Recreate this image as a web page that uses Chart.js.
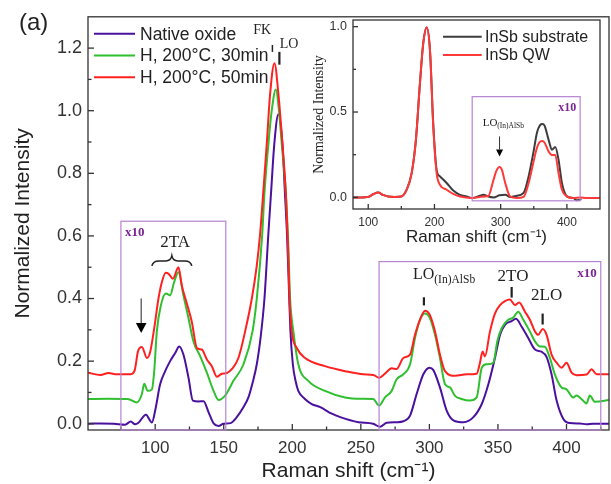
<!DOCTYPE html>
<html>
<head>
<meta charset="utf-8">
<script src="https://cdn.jsdelivr.net/npm/chart.js@4"></script>
<style>
  html, body { margin: 0; padding: 0; background: #fff; }
  #wrap { position: relative; width: 611px; height: 484px; }
  #mainChart { position: absolute; left: 0; top: 0; }
  #insetChart { position: absolute; left: 300px; top: 0; }
</style>
</head>
<body>
<div id="wrap">
  <canvas id="mainChart" width="611" height="484"></canvas>
  <canvas id="insetChart" width="305" height="250"></canvas>
</div>
<script>
// ---- main panel data ----
const nativeShift = [51, 60, 70, 78, 82.2, 85.4, 87.8, 93.2, 97.6, 100, 103.6, 107.3, 110.9, 114.6, 117.5, 120.6, 124.3, 127.5, 131.6, 135.3, 138.9, 142.6, 146.2, 149.8, 155, 159.5, 164, 168, 171, 174.1, 177, 179.7, 182.6, 184.5, 186.9, 189.9, 192.8, 194.6, 196.2, 197.4, 198.6, 200.4, 202.5, 204.4, 209, 214.2, 220.4, 228.8, 235, 248.2, 259, 264, 268.8, 276.1, 281, 285.9, 290.7, 295.6, 300, 302.8, 307.7, 312.6, 317.5, 324.8, 332.1, 338.2, 343, 347.8, 351.5, 355.1, 360, 363.1, 367.3, 372.1, 377, 381.8, 385.5, 389.1, 392.8, 397.6, 402.5, 409.8, 414.6, 419.4, 431];
const nativeInt = [0, 0.001, 0, -0.003, 0.007, -0.002, 0.003, 0.029, 0.004, 0.042, 0.126, 0.168, 0.2, 0.226, 0.247, 0.221, 0.147, 0.074, 0.071, 0.072, 0.037, 0.001, -0.007, 0, 0.002, 0.021, 0.05, 0.084, 0.13, 0.19, 0.28, 0.4, 0.61, 0.737, 0.895, 0.989, 0.895, 0.74, 0.6, 0.45, 0.3, 0.19, 0.135, 0.105, 0.08, 0.063, 0.053, 0.032, 0.021, 0.005, 0, -0.01, 0.003, 0.005, 0.008, 0.026, 0.095, 0.158, 0.179, 0.172, 0.116, 0.042, 0.011, 0.005, 0.021, 0.063, 0.126, 0.21, 0.284, 0.316, 0.328, 0.335, 0.31, 0.274, 0.237, 0.23, 0.213, 0.158, 0.074, 0.016, 0.002, 0.001, -0.002, 0, 0];

const h30Shift = [51, 65, 80, 86.6, 90.3, 92, 94.5, 97.6, 99.3, 101.2, 104.2, 107.8, 110.9, 113.8, 117, 120.6, 124.3, 127.9, 132.8, 137.7, 142.6, 146.2, 151, 157.1, 164.4, 171, 174.1, 178, 179.7, 182.6, 185, 188, 190.3, 192.3, 195.3, 197, 198.4, 200.8, 204.4, 211.7, 223.9, 238.5, 250.7, 259, 263.3, 267.6, 272.5, 276.1, 281, 285.9, 289.5, 293.1, 296.8, 300.4, 304.1, 307.7, 311.4, 315, 318.7, 323.5, 329.6, 334.5, 338.2, 341.8, 346.6, 349.5, 352.7, 357.5, 361.2, 364.8, 368.5, 373.3, 377, 380.6, 384.2, 387.9, 391.5, 396.4, 400, 404.9, 407.3, 410.9, 414.6, 417, 420.7, 431];
const h30Int = [0.079, 0.08, 0.079, 0.068, 0.095, 0.128, 0.105, 0.11, 0.168, 0.295, 0.379, 0.416, 0.41, 0.452, 0.484, 0.41, 0.337, 0.263, 0.216, 0.163, 0.105, 0.076, 0.09, 0.137, 0.19, 0.295, 0.4, 0.6, 0.737, 0.895, 1.0, 1.068, 1.0, 0.895, 0.737, 0.58, 0.4, 0.295, 0.19, 0.137, 0.105, 0.084, 0.08, 0.079, 0.058, 0.084, 0.105, 0.142, 0.158, 0.19, 0.274, 0.332, 0.352, 0.337, 0.284, 0.21, 0.126, 0.116, 0.089, 0.079, 0.074, 0.084, 0.179, 0.19, 0.195, 0.263, 0.305, 0.332, 0.339, 0.358, 0.332, 0.295, 0.263, 0.247, 0.246, 0.21, 0.158, 0.116, 0.11, 0.084, 0.09, 0.079, 0.065, 0.09, 0.07, 0.076];

const h50Shift = [51, 60, 66, 72, 81.8, 85, 87.5, 90.3, 94, 96.4, 99.3, 102.4, 104.9, 107.8, 110, 112.9, 117, 119.4, 123.1, 126.7, 130.4, 134, 137.7, 141.3, 145, 148.6, 152.3, 156, 160.7, 165.6, 170.5, 174.1, 176.6, 179, 181.4, 183.8, 187, 189.9, 192.8, 195.3, 196.8, 198, 199.6, 203.3, 209.3, 223.9, 238.5, 251.8, 259, 263.3, 267.6, 272.5, 276.1, 281, 285.9, 289.5, 293.1, 296.8, 300.4, 304.1, 307.7, 311.4, 318.7, 327.2, 334.5, 336.9, 338.8, 340.5, 344.2, 347.8, 351.5, 355.1, 358.7, 362.4, 365.5, 369.7, 373.3, 377, 379.4, 382.6, 385.5, 389.1, 392.8, 396.4, 400, 403.7, 407.3, 414.6, 418.3, 421.9, 431];
const h50Int = [0.163, 0.156, 0.162, 0.158, 0.158, 0.17, 0.232, 0.245, 0.21, 0.23, 0.305, 0.4, 0.453, 0.482, 0.478, 0.463, 0.5, 0.442, 0.384, 0.326, 0.242, 0.237, 0.205, 0.184, 0.15, 0.16, 0.162, 0.175, 0.21, 0.295, 0.4, 0.505, 0.61, 0.75, 0.895, 1.052, 1.152, 1.052, 0.895, 0.737, 0.58, 0.4, 0.295, 0.242, 0.21, 0.184, 0.168, 0.158, 0.156, 0.147, 0.16, 0.177, 0.175, 0.21, 0.221, 0.284, 0.332, 0.361, 0.347, 0.295, 0.221, 0.168, 0.153, 0.158, 0.16, 0.195, 0.231, 0.215, 0.295, 0.352, 0.379, 0.392, 0.397, 0.379, 0.387, 0.358, 0.332, 0.295, 0.284, 0.303, 0.284, 0.221, 0.195, 0.179, 0.195, 0.163, 0.155, 0.157, 0.174, 0.158, 0.158];

const mainXTicks = [75, 100, 125, 150, 175, 200, 225, 250, 275, 300, 325, 350, 375, 400, 425];
const mainXLabels = [100, 150, 200, 250, 300, 350, 400];
const mainYTicks = [0, 0.1, 0.2, 0.3, 0.4, 0.5, 0.6, 0.7, 0.8, 0.9, 1.0, 1.1, 1.2];
const mainYLabels = [0, 0.2, 0.4, 0.6, 0.8, 1.0, 1.2];

// ---- inset data ----
const subShift = [77, 90, 100, 108, 115, 122, 130, 140, 150, 158, 165.6, 172, 178.1, 183.1, 188.2, 193.2, 198.2, 203.3, 208.3, 218.4, 228.4, 238.5, 248.6, 256.2, 262, 268.7, 273.8, 281.3, 289.2, 298.3, 306.9, 314.4, 324.5, 334.6, 342.2, 349.7, 354.7, 359.8, 363, 366.3, 372.4, 377.4, 382.4, 387.4, 392.5, 400, 410, 415, 422];
const subInt = [0, 0, 0.003, 0.02, 0.028, 0.015, 0.005, 0.003, 0.005, 0.045, 0.142, 0.337, 0.669, 0.903, 0.995, 0.864, 0.43, 0.16, 0.123, 0.084, 0.04, 0.015, 0.005, -0.004, 0, 0.01, 0.016, 0.005, 0, 0.012, 0.015, 0.003, 0.01, 0.026, 0.123, 0.269, 0.377, 0.425, 0.43, 0.42, 0.337, 0.279, 0.295, 0.22, 0.084, 0.006, -0.004, -0.017, -0.01];
const qwShift = [77, 90, 100, 108, 115, 122, 130, 140, 150, 158, 165.6, 172, 178.1, 183.1, 188.2, 193.2, 198.2, 203.3, 208.3, 218.4, 228.4, 238.5, 248.6, 256.2, 268.7, 281.3, 289.2, 293.5, 298.3, 302, 306.9, 314.4, 324.5, 334.6, 342.2, 349.7, 354.7, 359.8, 363, 366.3, 372.4, 377.4, 382.4, 387.4, 392.5, 400, 410, 420, 430, 450];
const qwInt = [0, 0, 0.003, 0.02, 0.028, 0.015, 0.005, 0.003, 0.005, 0.045, 0.142, 0.337, 0.669, 0.903, 0.995, 0.864, 0.415, 0.142, 0.074, 0.045, 0.02, 0.005, 0, -0.004, 0.003, 0.008, 0.103, 0.155, 0.178, 0.16, 0.084, 0.005, -0.004, 0.003, 0.084, 0.21, 0.289, 0.327, 0.33, 0.32, 0.269, 0.249, 0.249, 0.142, 0.045, 0.006, -0.004, 0, -0.004, -0.004];

const insetXTicks = [100, 150, 200, 250, 300, 350, 400];
const insetXLabels = [100, 200, 300, 400];
const insetYTicks = [0, 0.25, 0.5, 0.75, 1.0];
const insetYLabels = [0, 0.5, 1.0];

const SANS = '"Liberation Sans", Arial, sans-serif';
const SERIF = '"Liberation Serif", "Times New Roman", serif';
const INK = "#222";
const AXIS = "#333";
const BOX = "#b683d2";
const BOX_TEXT = "#7a2396";

Chart.defaults.font.family = SANS;
Chart.defaults.color = AXIS;

function toPoints(xs, ys) {
  return xs.map((x, i) => ({ x: x, y: ys[i] }));
}

function fixedTicks(values) {
  return (scale) => {
    scale.ticks = values.map((v) => ({ value: v }));
  };
}

function line(ctx, x1, y1, x2, y2) {
  ctx.beginPath();
  ctx.moveTo(x1, y1);
  ctx.lineTo(x2, y2);
  ctx.stroke();
}

function arrowDown(ctx, x, y1, y2, head, half) {
  line(ctx, x, y1, x, y2 - head);
  ctx.beginPath();
  ctx.moveTo(x - half, y2 - head);
  ctx.lineTo(x + half, y2 - head);
  ctx.lineTo(x, y2);
  ctx.closePath();
  ctx.fill();
}

// LO with the "(In)AlSb" subscript
function loLabel(ctx, x, y, size, subSize, drop) {
  ctx.textAlign = "left";
  ctx.textBaseline = "middle";
  ctx.font = size + "px " + SERIF;
  ctx.fillText("LO", x, y);
  const w = ctx.measureText("LO").width;
  ctx.font = subSize + "px " + SERIF;
  ctx.fillText("(In)AlSb", x + w, y + drop);
}

// frame round the plot and inward tick marks
const frameTicks = {
  id: "frameTicks",
  afterDatasetsDraw(chart, args, opts) {
    const { ctx, chartArea: a, scales } = chart;
    ctx.save();
    ctx.strokeStyle = AXIS;
    ctx.lineWidth = opts.width;
    ctx.strokeRect(a.left, a.top, a.right - a.left, a.bottom - a.top);
    scales.x.ticks.forEach((t) => {
      const px = scales.x.getPixelForValue(t.value);
      const len = t.label ? opts.major : opts.minor;
      line(ctx, px, a.bottom, px, a.bottom - len);
    });
    scales.y.ticks.forEach((t) => {
      const py = scales.y.getPixelForValue(t.value);
      const len = t.label ? opts.major : opts.minor;
      line(ctx, a.left, py, a.left + len, py);
    });
    ctx.restore();
  },
};

const mainNotes = {
  id: "mainNotes",
  afterDraw(chart) {
    const { ctx, chartArea: a } = chart;
    const X = (v) => chart.scales.x.getPixelForValue(v);
    const Y = (v) => chart.scales.y.getPixelForValue(v);
    ctx.save();

    // x10 boxes
    ctx.strokeStyle = BOX;
    ctx.lineWidth = 1.2;
    ctx.strokeRect(X(75), Y(0.647), X(151.5) - X(75), Y(-0.02) - Y(0.647));
    ctx.strokeRect(X(263.3), Y(0.518), X(425) - X(263.3), Y(-0.02) - Y(0.518));
    ctx.fillStyle = BOX_TEXT;
    ctx.font = "bold 13px " + SERIF;
    ctx.textBaseline = "top";
    ctx.textAlign = "left";
    ctx.fillText("x10", X(75) + 4, Y(0.647) + 5);
    ctx.textAlign = "right";
    ctx.fillText("x10", X(425) - 4, Y(0.518) + 6);

    // legend
    ctx.font = "17.5px " + SANS;
    ctx.textAlign = "left";
    ctx.textBaseline = "middle";
    ctx.lineWidth = 2;
    chart.data.datasets.forEach((ds, i) => {
      const y = a.top + 17 + i * 21.7;
      ctx.strokeStyle = ds.borderColor;
      line(ctx, a.left + 6, y, a.left + 47, y);
      ctx.fillStyle = INK;
      ctx.fillText(ds.label, a.left + 52, y + 1);
    });

    // panel letter
    ctx.font = "24px " + SANS;
    ctx.fillText("(a)", 19, 23);

    // peak labels
    ctx.fillStyle = INK;
    ctx.strokeStyle = INK;
    ctx.textAlign = "center";
    ctx.font = "14px " + SERIF;
    ctx.fillText("FK", X(178), Y(1.257));
    ctx.fillText("LO", X(197.7), Y(1.213));
    ctx.lineWidth = 1.5;
    line(ctx, X(185.5), Y(1.21), X(185.5), Y(1.188));
    ctx.lineWidth = 2.2;
    line(ctx, X(190.6), Y(1.188), X(190.6), Y(1.147));

    ctx.font = "17px " + SERIF;
    ctx.fillText("2TA", X(114.5), Y(0.578));
    ctx.fillText("2TO", X(361), Y(0.471));
    ctx.fillText("2LO", X(385.5), Y(0.411));
    loLabel(ctx, X(288), Y(0.475), 16, 11.5, 5);

    ctx.lineWidth = 2.2;
    line(ctx, X(296), Y(0.404), X(296), Y(0.378));
    line(ctx, X(360), Y(0.437), X(360), Y(0.403));
    line(ctx, X(382.6), Y(0.352), X(382.6), Y(0.317));

    // brace over 2TA
    const bx1 = X(97.6), bx2 = X(126.7), bm = (bx1 + bx2) / 2, by = Y(0.52);
    ctx.lineWidth = 1.6;
    ctx.beginPath();
    ctx.moveTo(bx1, by + 5);
    ctx.quadraticCurveTo(bx1 + 1, by, bx1 + 7, by);
    ctx.lineTo(bm - 6, by);
    ctx.quadraticCurveTo(bm - 1, by, bm, by - 5);
    ctx.quadraticCurveTo(bm + 1, by, bm + 6, by);
    ctx.lineTo(bx2 - 7, by);
    ctx.quadraticCurveTo(bx2 - 1, by, bx2, by + 5);
    ctx.stroke();

    // arrow to the 90 cm-1 shoulder
    ctx.fillStyle = "#000";
    ctx.strokeStyle = "#444";
    ctx.lineWidth = 1.2;
    arrowDown(ctx, X(89.8), Y(0.40), Y(0.29), 10, 5.3);

    ctx.restore();
  },
};

const insetNotes = {
  id: "insetNotes",
  afterDraw(chart) {
    const { ctx, chartArea: a } = chart;
    const X = (v) => chart.scales.x.getPixelForValue(v);
    const Y = (v) => chart.scales.y.getPixelForValue(v);
    ctx.save();

    ctx.strokeStyle = BOX;
    ctx.lineWidth = 1.2;
    ctx.strokeRect(X(257), Y(0.59), X(420) - X(257), Y(-0.02) - Y(0.59));
    ctx.fillStyle = BOX_TEXT;
    ctx.font = "bold 12px " + SERIF;
    ctx.textAlign = "right";
    ctx.textBaseline = "top";
    ctx.fillText("x10", X(420) - 4, Y(0.59) + 5);

    // legend
    ctx.font = "16px " + SANS;
    ctx.textAlign = "left";
    ctx.textBaseline = "middle";
    ctx.lineWidth = 2;
    chart.data.datasets.forEach((ds, i) => {
      const y = a.top + 16.7 + i * 18.3;
      ctx.strokeStyle = ds.borderColor;
      line(ctx, a.left + 90, y, a.left + 128.7, y);
      ctx.fillStyle = INK;
      ctx.fillText(ds.label, a.left + 132, y + 1);
    });

    ctx.fillStyle = INK;
    loLabel(ctx, X(272.8), Y(0.437), 11, 7.5, 3);
    ctx.strokeStyle = "#333";
    ctx.fillStyle = "#000";
    ctx.lineWidth = 1;
    arrowDown(ctx, X(298.3), Y(0.357), Y(0.24), 7, 3.5);

    ctx.restore();
  },
};

new Chart(document.getElementById("mainChart"), {
  type: "line",
  data: {
    datasets: [
      { label: "Native oxide", data: toPoints(nativeShift, nativeInt), borderColor: "#4a109e", order: 2 },
      { label: "H, 200°C, 30min", data: toPoints(h30Shift, h30Int), borderColor: "#2fbf2f", order: 1 },
      { label: "H, 200°C, 50min", data: toPoints(h50Shift, h50Int), borderColor: "#ff2020", order: 0 },
    ],
  },
  options: {
    responsive: false,
    animation: false,
    events: [],
    layout: { padding: { top: 12, right: 2, left: 0, bottom: 0 } },
    elements: {
      point: { radius: 0 },
      line: { borderWidth: 2, fill: false, cubicInterpolationMode: "monotone" },
    },
    plugins: {
      legend: { display: false },
      tooltip: { enabled: false },
      frameTicks: { width: 1.3, major: 6, minor: 3.5 },
    },
    scales: {
      x: {
        type: "linear",
        min: 51,
        max: 431,
        afterBuildTicks: fixedTicks(mainXTicks),
        afterFit: (s) => { s.height = 54; },
        grid: { display: false, drawTicks: false },
        border: { display: false },
        ticks: {
          autoSkip: false,
          maxRotation: 0,
          padding: 8,
          color: AXIS,
          font: { size: 17, family: SANS },
          callback: (v) => (mainXLabels.includes(v) ? String(v) : ""),
        },
        title: {
          display: true,
          text: "Raman shift (cm⁻¹)",
          color: INK,
          font: { size: 21, family: SANS },
          padding: { top: 0, bottom: 0 },
        },
      },
      y: {
        min: -0.02,
        max: 1.3,
        afterBuildTicks: fixedTicks(mainYTicks),
        afterFit: (s) => { s.width = 88; },
        grid: { display: false, drawTicks: false },
        border: { display: false },
        ticks: {
          padding: 6,
          color: AXIS,
          font: { size: 18, family: SANS },
          callback: (v) => (mainYLabels.includes(v) ? v.toFixed(1) : ""),
        },
        title: {
          display: true,
          text: "Normalized Intensity",
          color: INK,
          font: { size: 21, family: SANS },
          padding: { top: 11, bottom: 0 },
        },
      },
    },
  },
  plugins: [frameTicks, mainNotes],
});

new Chart(document.getElementById("insetChart"), {
  type: "line",
  data: {
    datasets: [
      { label: "InSb substrate", data: toPoints(subShift, subInt), borderColor: "#3c3c3c", order: 1 },
      { label: "InSb QW", data: toPoints(qwShift, qwInt), borderColor: "#ff3838", order: 0 },
    ],
  },
  options: {
    responsive: false,
    animation: false,
    events: [],
    layout: { padding: { top: 20, right: 5, left: 0, bottom: 0 } },
    elements: {
      point: { radius: 0 },
      line: { borderWidth: 2, fill: false, cubicInterpolationMode: "monotone" },
    },
    plugins: {
      legend: { display: false },
      tooltip: { enabled: false },
      frameTicks: { width: 1.3, major: 5, minor: 3 },
    },
    scales: {
      x: {
        type: "linear",
        min: 77,
        max: 450,
        afterBuildTicks: fixedTicks(insetXTicks),
        afterFit: (s) => { s.height = 41; },
        grid: { display: false, drawTicks: false },
        border: { display: false },
        ticks: {
          autoSkip: false,
          maxRotation: 0,
          padding: 6,
          color: AXIS,
          font: { size: 12, family: SANS },
          callback: (v) => (insetXLabels.includes(v) ? String(v) : ""),
        },
        title: {
          display: true,
          text: "Raman shift (cm⁻¹)",
          color: INK,
          font: { size: 17, family: SANS },
          padding: { top: 0, bottom: 2 },
        },
      },
      y: {
        min: -0.068,
        max: 1.039,
        afterBuildTicks: fixedTicks(insetYTicks),
        afterFit: (s) => { s.width = 53; },
        grid: { display: false, drawTicks: false },
        border: { display: false },
        ticks: {
          padding: 6,
          color: AXIS,
          font: { size: 12.5, family: SANS },
          callback: (v) => (insetYLabels.includes(v) ? v.toFixed(1) : ""),
        },
        title: {
          display: true,
          text: "Normalized Intensity",
          color: INK,
          font: { size: 14, family: SERIF },
          padding: { top: 11, bottom: 0 },
        },
      },
    },
  },
  plugins: [frameTicks, insetNotes],
});
</script>
</body>
</html>
